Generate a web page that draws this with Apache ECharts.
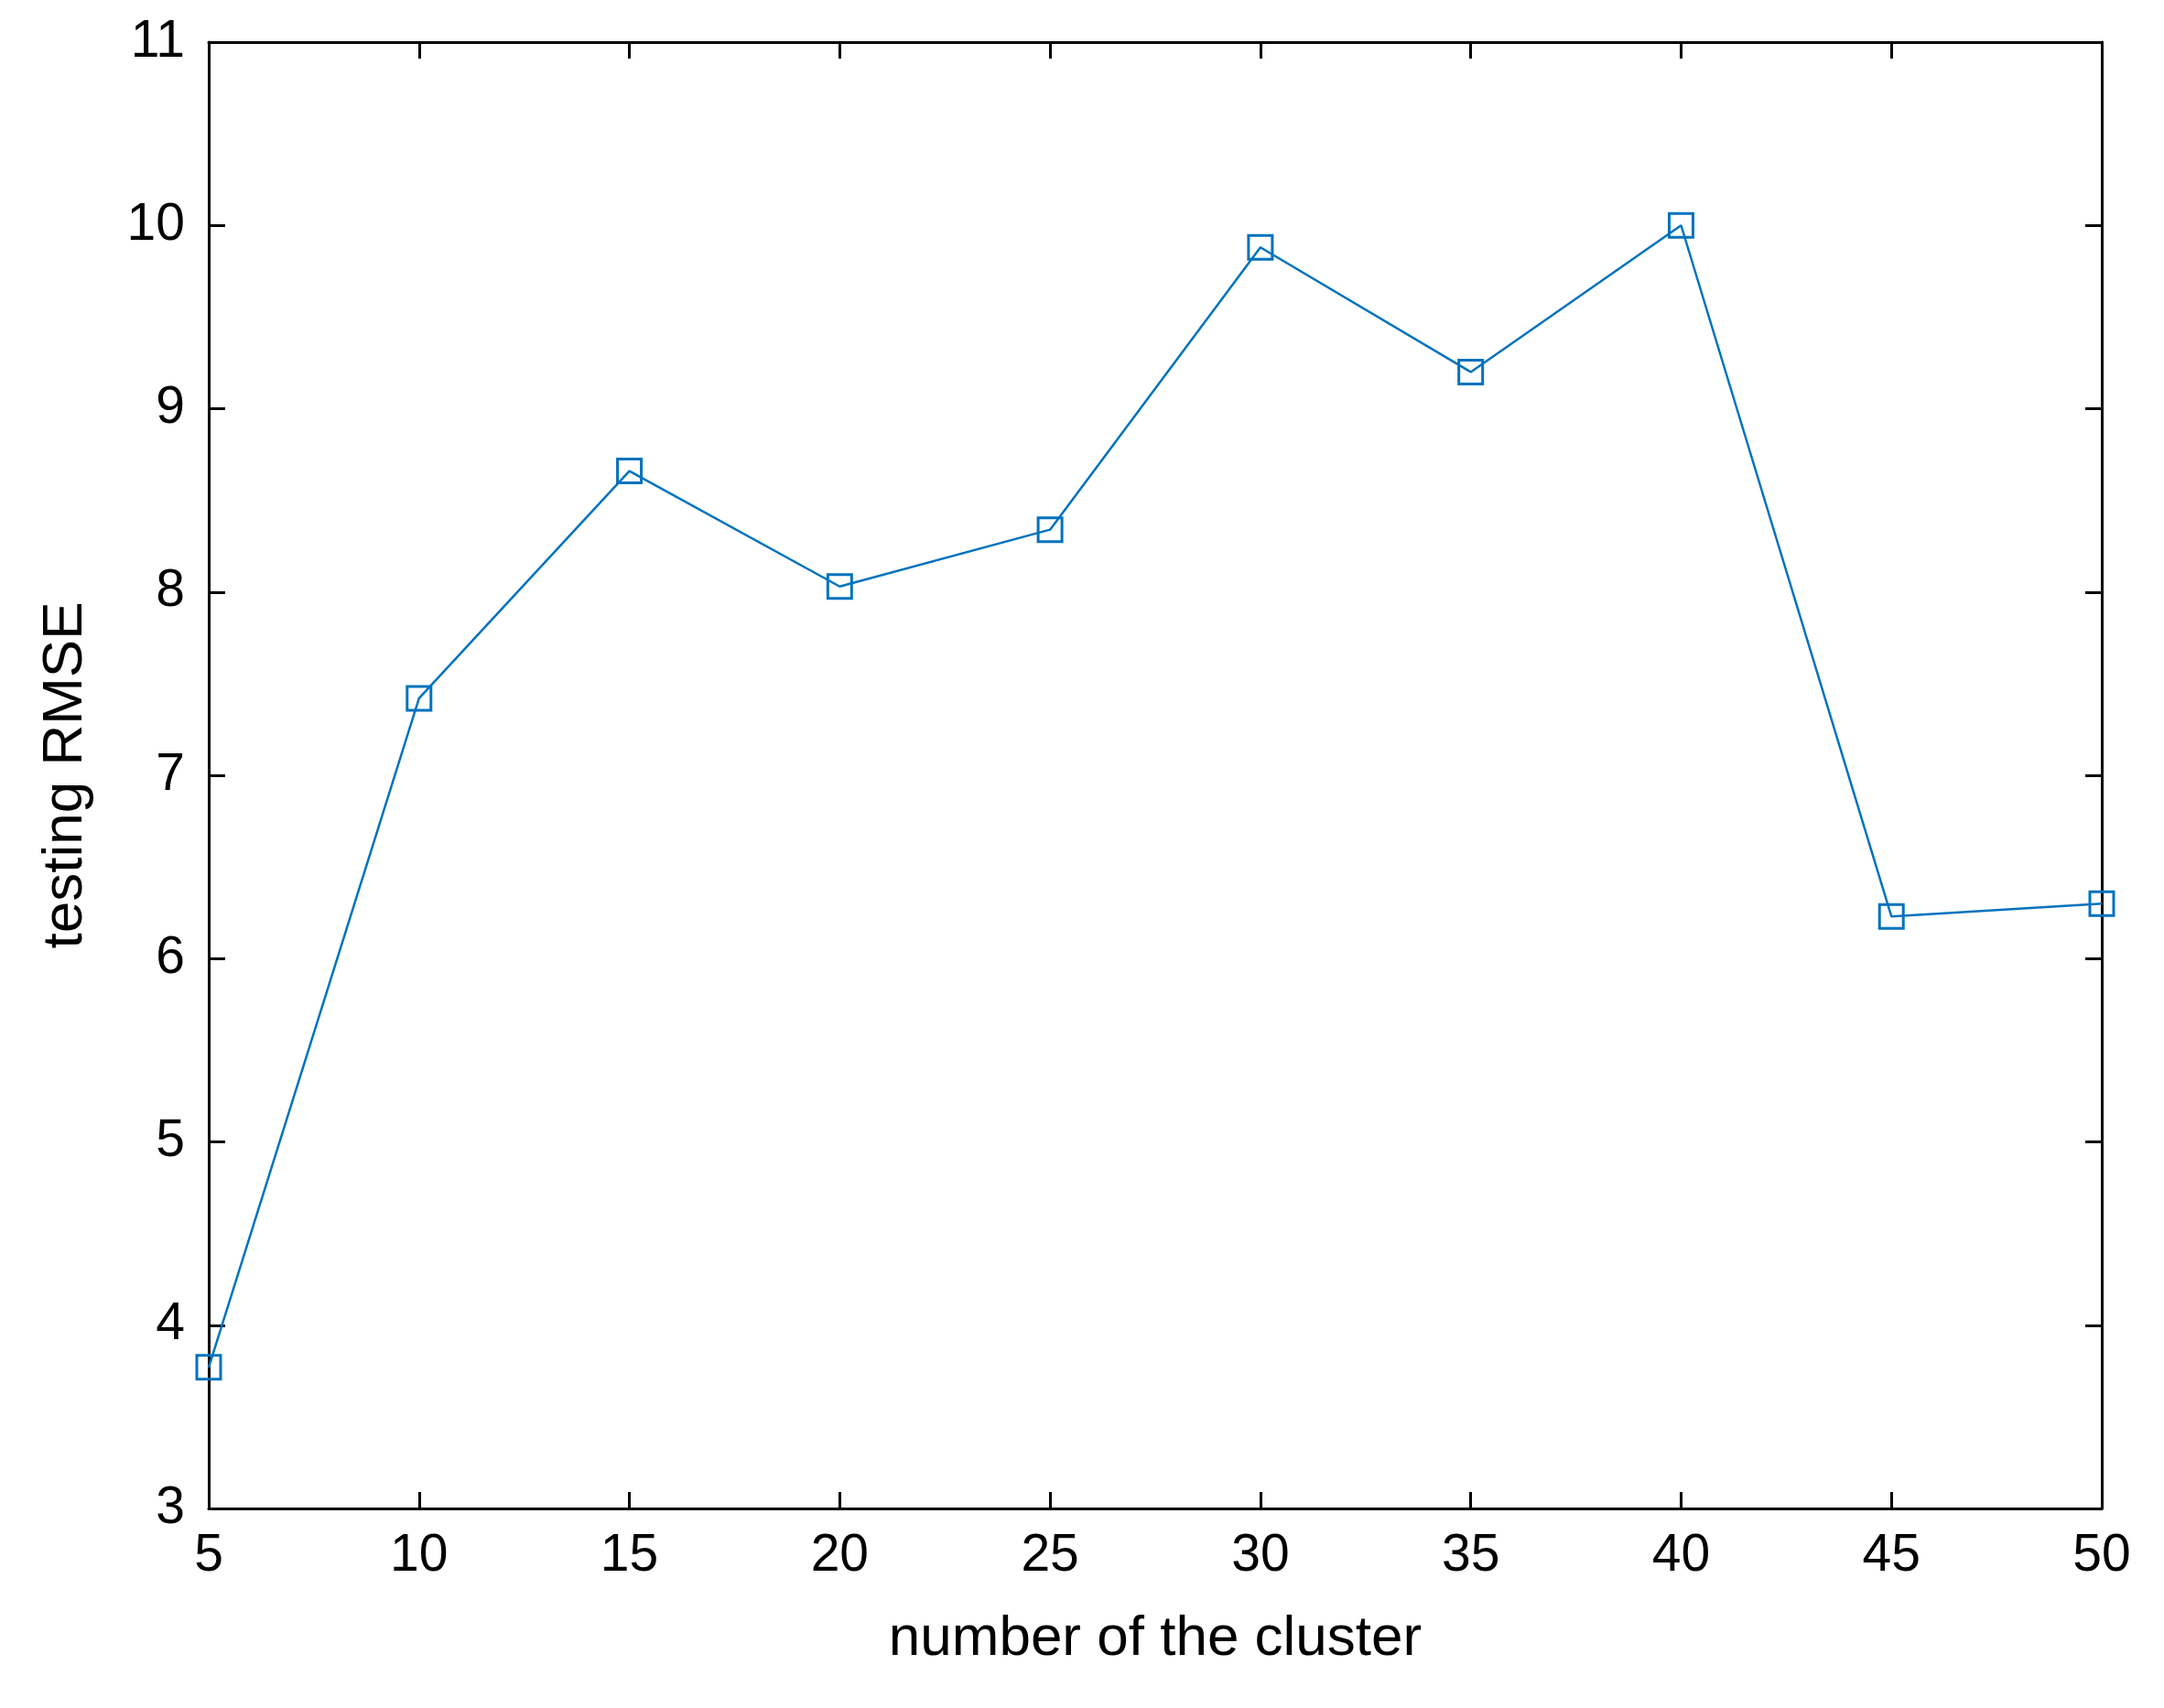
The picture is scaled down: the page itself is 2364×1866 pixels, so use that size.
<!DOCTYPE html>
<html><head><meta charset="utf-8">
<script src="https://cdn.jsdelivr.net/npm/echarts@6/dist/echarts.min.js"></script>
<style>html,body{margin:0;background:#fff}#c{width:2364px;height:1866px}</style>
</head><body><div id="c"></div>
<script>
const clusters = [5,10,15,20,25,30,35,40,45,50];
const rmse = [3.77,7.42,8.66,8.03,8.34,9.88,9.2,10.0,6.23,6.30];
const xTitle = 'number of the cluster';
const yTitle = 'testing RMSE';
const font = 'Liberation Sans';
const chart = echarts.init(document.getElementById('c'));
const axisCommon = {
  axisLine:{show:true,onZero:false,lineStyle:{color:'#000',width:3}},
  axisTick:{show:true,inside:true,length:18,lineStyle:{color:'#000',width:3}},
  splitLine:{show:false}
};
chart.setOption({
  animation:false,
  backgroundColor:'#fff',
  grid:{left:228,right:68,top:46,bottom:218},
  xAxis:[{type:'value',min:5,max:50,interval:5,position:'bottom',...axisCommon,
    axisLabel:{color:'#000',fontSize:57,fontFamily:font,margin:24},
    name:xTitle,nameLocation:'middle',nameGap:112,
    nameTextStyle:{color:'#000',fontSize:62,fontFamily:font}},
   {type:'value',min:5,max:50,interval:5,position:'top',...axisCommon,axisLabel:{show:false}}],
  yAxis:[{type:'value',min:3,max:11,interval:1,position:'left',...axisCommon,
    axisLabel:{color:'#000',fontSize:57,fontFamily:font,margin:26},
    name:yTitle,nameLocation:'middle',nameGap:125,
    nameTextStyle:{color:'#000',fontSize:62,fontFamily:font}},
   {type:'value',min:3,max:11,interval:1,position:'right',...axisCommon,axisLabel:{show:false}}],
  series:[{type:'line',data:clusters.map((c,i)=>[c,rmse[i]]),
    symbol:'rect',symbolSize:26,showAllSymbol:true,
    lineStyle:{color:'#0072BD',width:2.5},
    itemStyle:{color:'rgba(255,255,255,0)',borderColor:'#0072BD',borderWidth:3}}]
});
</script></body></html>
